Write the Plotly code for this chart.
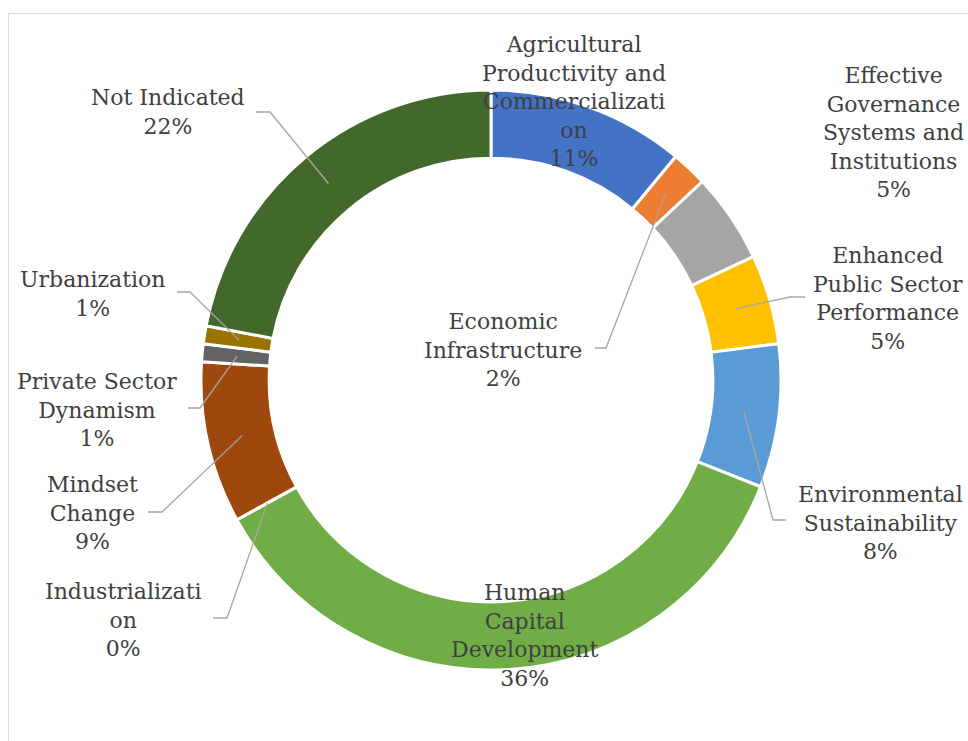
import math
import plotly.graph_objects as go

# Share of items by strategic focus area (clockwise from 12 o'clock)
categories = [
    "Agricultural Productivity and Commercialization",
    "Economic Infrastructure",
    "Effective Governance Systems and Institutions",
    "Enhanced Public Sector Performance",
    "Environmental Sustainability",
    "Human Capital Development",
    "Industrialization",
    "Mindset Change",
    "Private Sector Dynamism",
    "Urbanization",
    "Not Indicated",
]
shares = [11, 2, 5, 5, 8, 36, 0, 9, 1, 1, 22]
label_lines = [
    ["Agricultural", "Productivity and", "Commercializati", "on"],
    ["Economic", "Infrastructure"],
    ["Effective", "Governance", "Systems and", "Institutions"],
    ["Enhanced", "Public Sector", "Performance"],
    ["Environmental", "Sustainability"],
    ["Human", "Capital", "Development"],
    ["Industrializati", "on"],
    ["Mindset", "Change"],
    ["Private Sector", "Dynamism"],
    ["Urbanization"],
    ["Not Indicated"],
]
colors = ["#4472C4", "#ED7D31", "#A5A5A5", "#FFC000", "#5B9BD5", "#70AD47",
          "#264478", "#9E480E", "#636363", "#997300", "#43682B"]

# Canvas and ring geometry (pixels)
W, H = 968, 741
CX, CY = 491, 380
R_OUT = 290
HOLE = 0.765
R_MID = 255

# Label block centres and leader-line routing (elbow, end), in pixels
label_pos = [
    (574, 102), (503, 350), (893, 132), (888, 298), (880, 523), (525, 635),
    (123, 620), (92, 513), (97, 410), (92, 294), (168, 112),
]
leaders = {
    1: [(606, 348), (595, 348)],
    3: [(790, 297), (805, 297)],
    4: [(773, 520), (786, 520)],
    6: [(227, 618), (213, 618)],
    7: [(162, 512), (148, 512)],
    8: [(200, 408), (188, 408)],
    9: [(190, 292), (177, 292)],
    10: [(270, 112), (256, 112)],
}


def px(x):
    return x / W


def py(y):
    return 1 - y / H


fig = go.Figure(go.Pie(
    labels=categories,
    values=shares,
    hole=HOLE,
    sort=False,
    direction="clockwise",
    rotation=0,
    textinfo="none",
    hoverinfo="label+percent",
    marker=dict(colors=colors, line=dict(color="white", width=3)),
    domain=dict(x=[px(CX - R_OUT), px(CX + R_OUT)],
                y=[py(CY + R_OUT), py(CY - R_OUT)]),
    showlegend=False,
))

total = sum(shares)
annotations = []
shapes = []
cum = 0
for i, v in enumerate(shares):
    mid = (cum + v / 2) / total * 2 * math.pi
    cum += v
    pct = round(v / total * 100)
    text = "<br>".join(label_lines[i] + [f"{pct}%"])
    lx, ly = label_pos[i]
    annotations.append(dict(
        x=px(lx), y=py(ly), xref="paper", yref="paper",
        text=text, showarrow=False, align="center",
        xanchor="center", yanchor="middle",
        font=dict(family="DejaVu Serif", size=22, color="#404040"),
    ))
    if i in leaders:
        ax = CX + R_MID * math.sin(mid)
        ay = CY - R_MID * math.cos(mid)
        pts = [(ax, ay)] + leaders[i]
        path = "M " + " L ".join(f"{px(x):.5f},{py(y):.5f}" for x, y in pts)
        shapes.append(dict(type="path", path=path, xref="paper", yref="paper",
                           line=dict(color="#A6A6A6", width=1.3)))

# Chart area frame
shapes.append(dict(type="rect", xref="paper", yref="paper",
                   x0=px(8.5), x1=1.2, y0=-0.2, y1=py(13.5),
                   line=dict(color="#D9D9D9", width=1), layer="below"))

fig.update_layout(
    width=W, height=H, autosize=False,
    margin=dict(l=0, r=0, t=0, b=0),
    paper_bgcolor="white", plot_bgcolor="white",
    annotations=annotations, shapes=shapes,
)

fig.write_html("out.html")
